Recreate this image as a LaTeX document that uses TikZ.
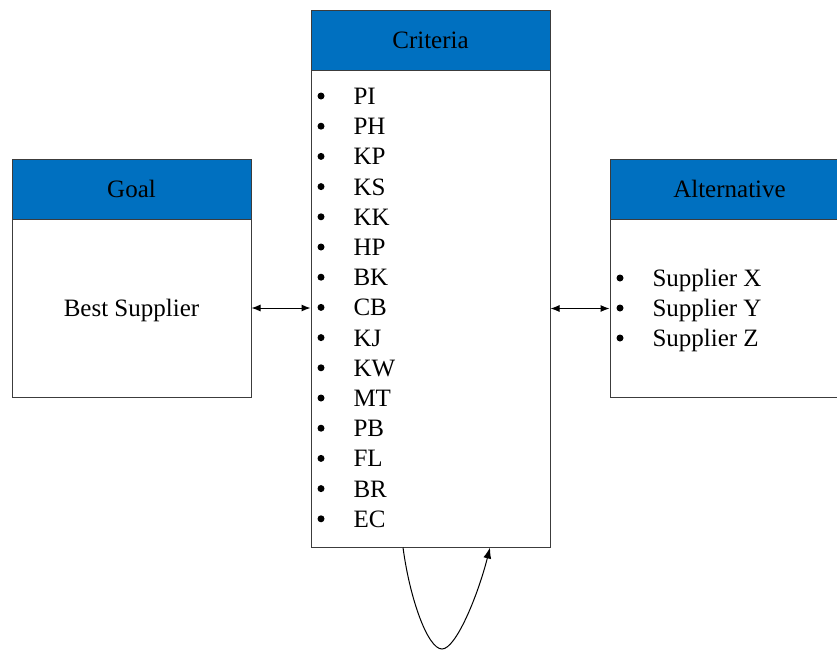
\documentclass[tikz,border=0pt]{standalone}
\usepackage{fontspec}
\setmainfont{Liberation Serif}
\usetikzlibrary{arrows.meta}
\definecolor{headblue}{RGB}{0,112,192}
\definecolor{boxline}{RGB}{60,60,60}
\begin{document}
\begin{tikzpicture}[x=1pt, y=-1pt, line width=1pt,
 font=\fontsize{25}{30}\selectfont,
 head/.style={rectangle, draw=boxline, fill=headblue, inner sep=0pt, minimum height=60pt, text height=17pt, text depth=0pt},
 body/.style={rectangle, draw=boxline, fill=white, inner sep=0pt, text height=17pt, text depth=0pt},
 dot/.style={circle, fill=black, inner sep=0pt, minimum size=7pt},
 item/.style={anchor=west, inner sep=0pt, text height=17pt, text depth=0pt},
 link/.style={{Latex[length=9pt,width=7pt]}-{Latex[length=9pt,width=7pt]}}]
 \useasboundingbox (0,0) rectangle (837,651);

 % goal
 \draw node[body, minimum width=239pt, minimum height=178pt] (goalbody) at (131.5,308) {Best Supplier};
 \draw node[head, minimum width=239pt] (goal) at (131.5,189) {Goal};

 % criteria
 \draw node[body, minimum width=239pt, minimum height=477pt] (critbody) at (430.5,308.5) {};
 \draw node[head, minimum width=239pt] (crit) at (430.5,40) {Criteria};
 \foreach \t [count=\i from 0] in {PI,PH,KP,KS,KK,HP,BK,CB,KJ,KW,MT,PB,FL,BR,EC}
 {
 \draw node[dot] (cd\i) at (321,96+30.2*\i) {};
 \draw node[item] (ct\i) at (353,96+30.2*\i) {\t};
 }

 % alternatives (box runs past the right edge)
 \draw node[body, minimum width=239pt, minimum height=178pt] (altbody) at (729.5,308) {};
 \draw node[head, minimum width=239pt] (alt) at (729.5,189) {Alternative};
 \foreach \t [count=\i from 0] in {Supplier X,Supplier Y,Supplier Z}
 {
 \draw node[dot] (ad\i) at (620,278+30*\i) {};
 \draw node[item] (at\i) at (652,278+30*\i) {\t};
 }

 \draw[link] (goalbody.east) -- (goalbody.east -| critbody.west);
 \draw[link] (critbody.east) -- (critbody.east -| altbody.west);

 % loop on criteria
 \coordinate (lpA) at ([xshift=-27.5pt]critbody.south);
 \coordinate (lpB) at ([xshift=59.5pt]critbody.south);
 \coordinate (lpC) at (442,649);
 \draw[-{Latex[length=11pt,width=8pt]}] (lpA) .. controls (410,600) and (428,649) .. (lpC)
 .. controls (456,649) and (478,595) .. (lpB);
\end{tikzpicture}
\end{document}
